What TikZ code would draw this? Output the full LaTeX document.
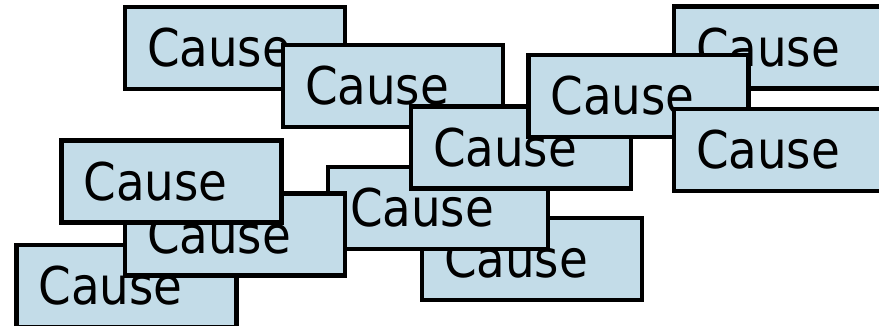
\documentclass[tikz,border=0pt]{standalone}
\usepackage{fontspec}
\setmainfont{DejaVu Sans Condensed}
\definecolor{causefill}{RGB}{195,220,232}
\tikzset{causebox/.style={draw, line width=4.5pt, fill=causefill, minimum height=82pt, text width=176pt, inner xsep=22pt, align=left, font=\fontsize{52}{52}\selectfont}}
\begin{document}
\begin{tikzpicture}[x=1pt, y=-1pt]
\useasboundingbox (0,0) rectangle (879,326);
% back layer first
\node[causebox] (c1) at (235,48) {Cause};
\node[causebox] (c2) at (393,86) {Cause};
\node[causebox] (c11) at (532,259) {Cause};
\node[causebox] (c10) at (438,208) {Cause};
\node[causebox] (c3) at (521,147.5) {Cause};
\node[causebox] (c5) at (784,47.5) {Cause};
\node[causebox] (c4) at (638.5,96) {Cause};
\node[causebox] (c6) at (784,150) {Cause};
\node[causebox] (c9) at (126.5,286) {Cause};
\node[causebox] (c8) at (235,234.5) {Cause};
\node[causebox] (c7) at (171.5,181.5) {Cause};
\end{tikzpicture}
\end{document}
